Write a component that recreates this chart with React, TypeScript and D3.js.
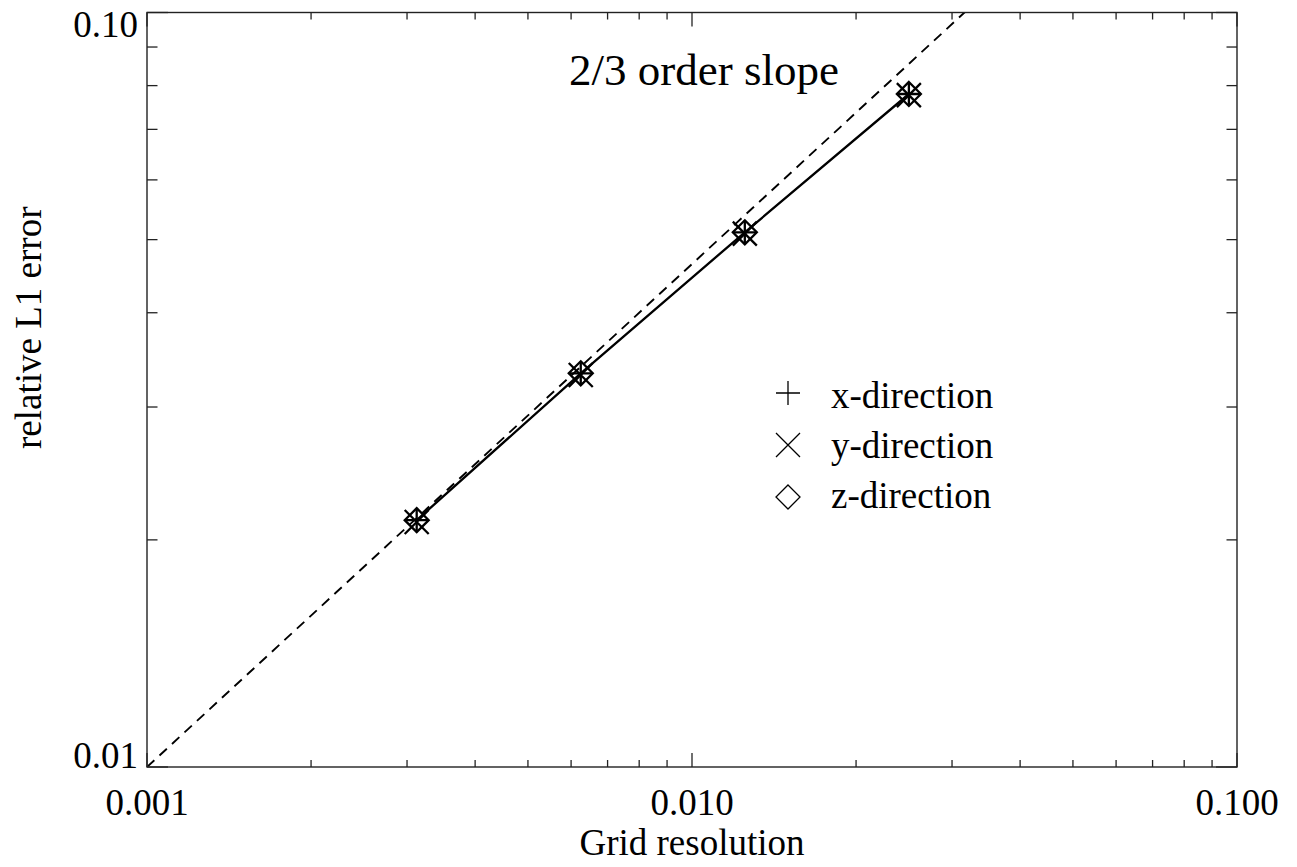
import React from 'react';
import * as d3 from 'd3';

// grid spacing (fraction of domain) and relative L1 error per direction
const gridRes = [0.003125, 0.00625, 0.0125, 0.025];
const errX = [0.02124, 0.03325, 0.05113, 0.07798];
const errY = [0.02112, 0.03308, 0.05092, 0.07772];
const errZ = [0.02124, 0.03325, 0.05113, 0.07798];

const xTickLabels = ['0.001', '0.010', '0.100'];
const yTickLabels = ['0.01', '0.10'];
const legendNames = ['x-direction', 'y-direction', 'z-direction'];

// reference slope line: y = 0.01 * (x / 0.001)^(2/3)
const slopeOrder = 2 / 3;
const slopeAnchor = [0.001, 0.01];

const W = 1297;
const H = 867;
const FONT = '"Liberation Serif", "Times New Roman", serif';

const symbols: Record<string, string> = {
  plus: 'M-12,0H12M0,-12V12',
  cross: 'M-12,-12L12,12M-12,12L12,-12',
  diamond: 'M0,-12L12,0L0,12L-12,0Z',
};

const App: React.FC = () => {
  const left = 147, right = 1237, top = 12.5, bottom = 767;
  const x = d3.scaleLog().domain([0.001, 0.1]).range([left, right]);
  const y = d3.scaleLog().domain([0.01, 0.1]).range([bottom, top]);

  const isMajor = (v: number) => Math.abs(Math.log10(v) - Math.round(Math.log10(v))) < 1e-6;
  const xTicks = x.ticks();
  const yTicks = y.ticks();
  const xMajors = xTicks.filter(isMajor);
  const yMajors = yTicks.filter(isMajor);

  const line = d3.line<number>()
    .x((_, i) => x(gridRes[i]))
    .y(d => y(d));

  const slopeXs = [slopeAnchor[0], 0.1];
  const slopeLine = d3.line<number>()
    .x(d => x(d))
    .y(d => y(slopeAnchor[1] * Math.pow(d / slopeAnchor[0], slopeOrder)));

  const series = [
    { name: legendNames[0], values: errX, sym: 'plus' },
    { name: legendNames[1], values: errY, sym: 'cross' },
    { name: legendNames[2], values: errZ, sym: 'diamond' },
  ];

  const axisColor = '#222';
  const majX = 14, minX = 7, majY = 21, minY = 10.5;

  return (
    <svg width={W} height={H} style={{ position: 'absolute', left: 0, top: 0, background: '#fff' }}
      fontFamily={FONT}>
      <defs>
        <clipPath id="plotClip">
          <rect x={left} y={top} width={right - left} height={bottom - top} />
        </clipPath>
      </defs>
      <rect width={W} height={H} fill="#fff" />

      {/* dashed reference slope */}
      <path d={slopeLine(slopeXs) || ''} fill="none" stroke="#000" strokeWidth={1.9}
        strokeDasharray="10,7" clipPath="url(#plotClip)" />

      {/* solid data line */}
      <path d={line(errX) || ''} fill="none" stroke="#000" strokeWidth={2.3} />

      {/* markers */}
      {series.map(s => (
        <g key={s.name}>
          {s.values.map((v, i) => (
            <path key={i} d={symbols[s.sym]} transform={`translate(${x(gridRes[i])},${y(v)})`}
              fill="none" stroke="#000" strokeWidth={2.3} />
          ))}
        </g>
      ))}

      {/* frame */}
      <rect x={left} y={top} width={right - left} height={bottom - top} fill="none"
        stroke={axisColor} strokeWidth={1.4} />

      {/* x ticks, bottom and top */}
      {xTicks.map((t, i) => {
        const len = isMajor(t) ? majX : minX;
        return (
          <g key={'xt' + i} stroke={axisColor} strokeWidth={1.3}>
            <line x1={x(t)} x2={x(t)} y1={bottom} y2={bottom - len} />
            <line x1={x(t)} x2={x(t)} y1={top} y2={top + len} />
          </g>
        );
      })}

      {/* y ticks, left and right */}
      {yTicks.map((t, i) => {
        const len = isMajor(t) ? majY : minY;
        return (
          <g key={'yt' + i} stroke={axisColor} strokeWidth={1.3}>
            <line x1={left} x2={left + len} y1={y(t)} y2={y(t)} />
            <line x1={right} x2={right - len} y1={y(t)} y2={y(t)} />
          </g>
        );
      })}

      {/* tick labels */}
      {xMajors.map((t, i) => (
        <text key={'xl' + i} x={x(t)} y={bottom + 48} textAnchor="middle" fontSize={37}>
          {xTickLabels[i]}
        </text>
      ))}
      {yMajors.map((t, i) => (
        <text key={'yl' + i} x={left - 9} y={y(t) + (i === yMajors.length - 1 ? 24 : 1)}
          textAnchor="end" fontSize={37}>
          {yTickLabels[i]}
        </text>
      ))}

      {/* axis titles */}
      <text x={(left + right) / 2} y={855} textAnchor="middle" fontSize={37}>Grid resolution</text>
      <text transform={`translate(41,${(top + bottom) / 2 - 62}) rotate(-90)`} textAnchor="middle"
        fontSize={37}>relative L1 error</text>

      {/* annotation */}
      <text x={569} y={85} fontSize={45}>2/3 order slope</text>

      {/* legend */}
      {series.map((s, i) => (
        <g key={'lg' + i}>
          <path d={symbols[s.sym]} transform={`translate(788,${393 + i * 52})`} fill="none"
            stroke="#000" strokeWidth={1.3} />
          <text x={831} y={408 + i * 50} fontSize={37}>{s.name}</text>
        </g>
      ))}
    </svg>
  );
};

export default App;
